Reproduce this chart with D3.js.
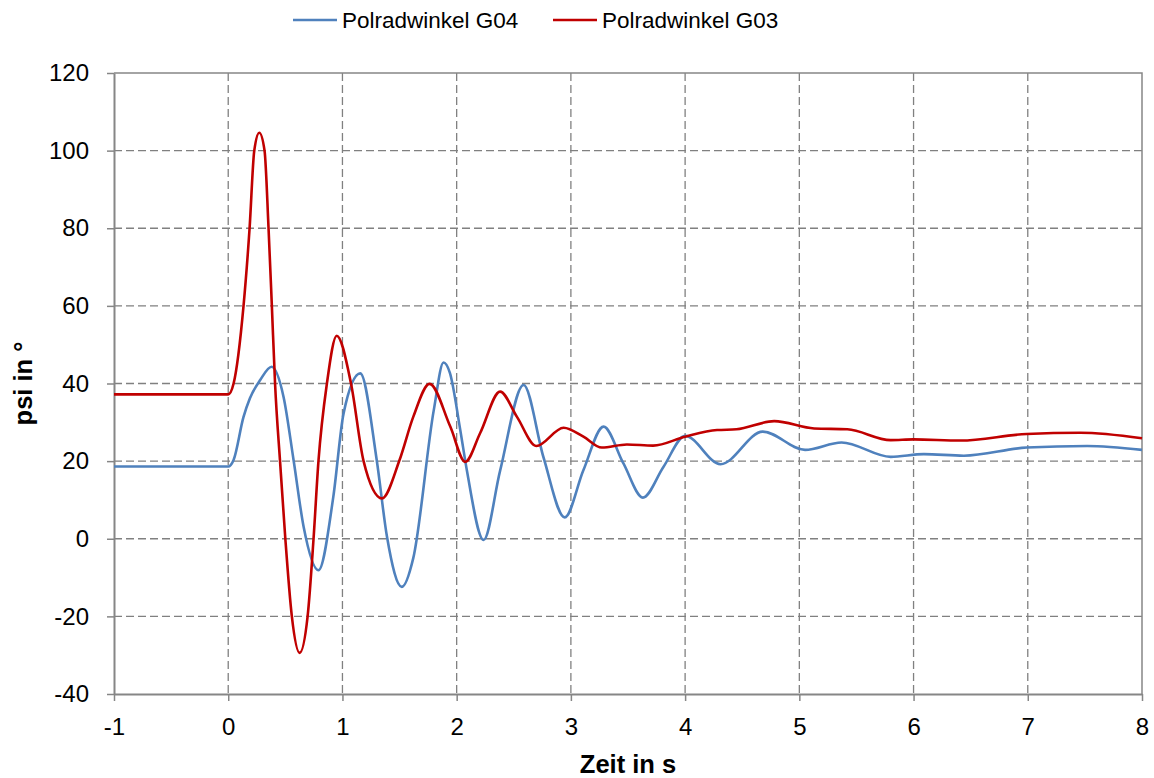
<!DOCTYPE html>
<html>
<head>
<meta charset="utf-8">
<script src="https://cdn.jsdelivr.net/npm/d3@7"></script>
<style>
  body { margin: 0; background: #fff; }
  svg text { font-family: "Liberation Sans", Arial, sans-serif; fill: #000; }
</style>
</head>
<body>
<div id="chart"></div>
<script>
// values
var tG04 = [-1, 0, 0.047, 0.134, 0.19, 0.28, 0.38, 0.484, 0.572, 0.66, 0.79, 0.92, 1.01, 1.156, 1.3, 1.39, 1.52, 1.62, 1.8, 1.885, 1.94, 2.03, 2.09, 2.236, 2.38, 2.586, 2.76, 2.946, 3.11, 3.286, 3.46, 3.63, 3.81, 4.0, 4.31, 4.68, 5.05, 5.37, 5.80, 6.09, 6.44, 6.99, 7.52, 8];
var vG04 = [18.6, 18.6, 20.3, 31.4, 36.2, 40.9, 44.3, 36.6, 20.3, 3.1, -8.1, 10.8, 32.3, 42.6, 20.3, 0.5, -12.4, -5, 33.2, 45.4, 42.8, 28.3, 17.5, -0.3, 17.5, 39.6, 21, 5.5, 17.7, 28.9, 19.4, 10.6, 18.5, 26.5, 19.2, 27.6, 22.9, 24.8, 21.1, 21.8, 21.4, 23.5, 23.9, 22.9];

var tG03 = [-1, 0, 0.047, 0.134, 0.187, 0.228, 0.272, 0.318, 0.353, 0.382, 0.41, 0.455, 0.5, 0.557, 0.625, 0.695, 0.747, 0.79, 0.864, 0.95, 1.075, 1.185, 1.346, 1.5, 1.62, 1.763, 1.944, 2.075, 2.207, 2.38, 2.528, 2.697, 2.936, 3.11, 3.27, 3.49, 3.72, 4.0, 4.28, 4.45, 4.78, 5.13, 5.42, 5.80, 6.0, 6.41, 6.99, 7.46, 8];
var vG03 = [37.2, 37.2, 40, 60, 80, 100, 104.6, 100, 80, 60, 40, 19.4, 0, -20, -29.4, -20, 0, 20, 40, 52.3, 40, 20, 10.4, 20.3, 31.4, 39.9, 28.9, 19.8, 27.3, 37.9, 31.4, 23.9, 28.6, 26.3, 23.5, 24.3, 24.0, 26.3, 28.0, 28.2, 30.3, 28.4, 28.2, 25.4, 25.6, 25.3, 27.0, 27.3, 25.9];

var xTicks = [-1, 0, 1, 2, 3, 4, 5, 6, 7, 8];
var yTicks = [-40, -20, 0, 20, 40, 60, 80, 100, 120];

var seriesNames = ['Polradwinkel G04', 'Polradwinkel G03'];
var seriesColors = ['#4F81BD', '#C00000'];

var w = 1154;
var h = 778;
var mLeft = 114, mRight = 1142, mTop = 73, mBottom = 694;
var tickFs = 24, legendFs = 22.5, titleFs = 25.5;

var svg = d3.select('#chart').append('svg')
  .attr('width', w)
  .attr('height', h);

var x = d3.scaleLinear().domain([-1, 8]).range([mLeft, mRight]);
var y = d3.scaleLinear().domain([-40, 120]).range([mBottom, mTop]);

// dashed grid
svg.append('g')
  .selectAll('line')
  .data(xTicks.slice(1, -1))
  .enter()
  .append('line')
  .attr('x1', function (d) { return x(d); })
  .attr('x2', function (d) { return x(d); })
  .attr('y1', mTop)
  .attr('y2', mBottom)
  .attr('stroke', '#808080')
  .attr('stroke-width', 1.3)
  .attr('stroke-dasharray', '8,4');

svg.append('g')
  .selectAll('line')
  .data(yTicks.slice(1, -1))
  .enter()
  .append('line')
  .attr('x1', mLeft)
  .attr('x2', mRight)
  .attr('y1', function (d) { return y(d); })
  .attr('y2', function (d) { return y(d); })
  .attr('stroke', '#808080')
  .attr('stroke-width', 1.3)
  .attr('stroke-dasharray', '8,4');

// top and right border
svg.append('path')
  .attr('d', 'M' + mLeft + ',' + mTop + 'H' + mRight + 'V' + mBottom)
  .attr('fill', 'none')
  .attr('stroke', '#868686')
  .attr('stroke-width', 1.5);

// axes
var fmt = function (d) { return String(d); }; // plain hyphen minus like the original

var xAxis = svg.append('g')
  .attr('transform', 'translate(0,' + mBottom + ')')
  .call(d3.axisBottom(x).tickValues(xTicks).tickFormat(fmt).tickSize(7).tickPadding(17).tickSizeOuter(0));

var yAxis = svg.append('g')
  .attr('transform', 'translate(' + mLeft + ',0)')
  .call(d3.axisLeft(y).tickValues(yTicks).tickFormat(fmt).tickSize(7).tickPadding(18).tickSizeOuter(0));

[xAxis, yAxis].forEach(function (g) {
  g.select('.domain').attr('stroke', '#868686').attr('stroke-width', 2);
  g.selectAll('.tick line').attr('stroke', '#868686').attr('stroke-width', 1.5);
  g.selectAll('.tick text')
    .attr('font-size', tickFs + 'px')
    .attr('font-family', '"Liberation Sans", Arial, sans-serif')
    .attr('fill', '#000');
});

// lines
var line = d3.line()
  .x(function (d) { return x(d[0]); })
  .y(function (d) { return y(d[1]); })
  .curve(d3.curveMonotoneX);

var series = [d3.zip(tG04, vG04), d3.zip(tG03, vG03)];

svg.selectAll('.series')
  .data(series)
  .enter()
  .append('path')
  .attr('class', 'series')
  .attr('d', line)
  .attr('fill', 'none')
  .attr('stroke', function (d, i) { return seriesColors[i]; })
  .attr('stroke-width', 2.6);

// legend
var legendX = [293, 553];
var leg = svg.selectAll('.legend')
  .data(seriesNames)
  .enter()
  .append('g')
  .attr('class', 'legend')
  .attr('transform', function (d, i) { return 'translate(' + legendX[i] + ',20)'; });

leg.append('line')
  .attr('x1', 0)
  .attr('x2', 44)
  .attr('stroke', function (d, i) { return seriesColors[i]; })
  .attr('stroke-width', 2.6);

leg.append('text')
  .attr('x', 49)
  .attr('dy', '0.35em')
  .attr('font-size', legendFs + 'px')
  .text(function (d) { return d; });

// axis titles
svg.append('text')
  .attr('x', (mLeft + mRight) / 2)
  .attr('y', 773)
  .attr('text-anchor', 'middle')
  .attr('font-size', titleFs + 'px')
  .attr('font-weight', 'bold')
  .text('Zeit in s');

svg.append('text')
  .attr('transform', 'translate(32,' + (mTop + mBottom) / 2 + ') rotate(-90)')
  .attr('text-anchor', 'middle')
  .attr('font-size', titleFs + 'px')
  .attr('font-weight', 'bold')
  .text('psi in °');
</script>
</body>
</html>
